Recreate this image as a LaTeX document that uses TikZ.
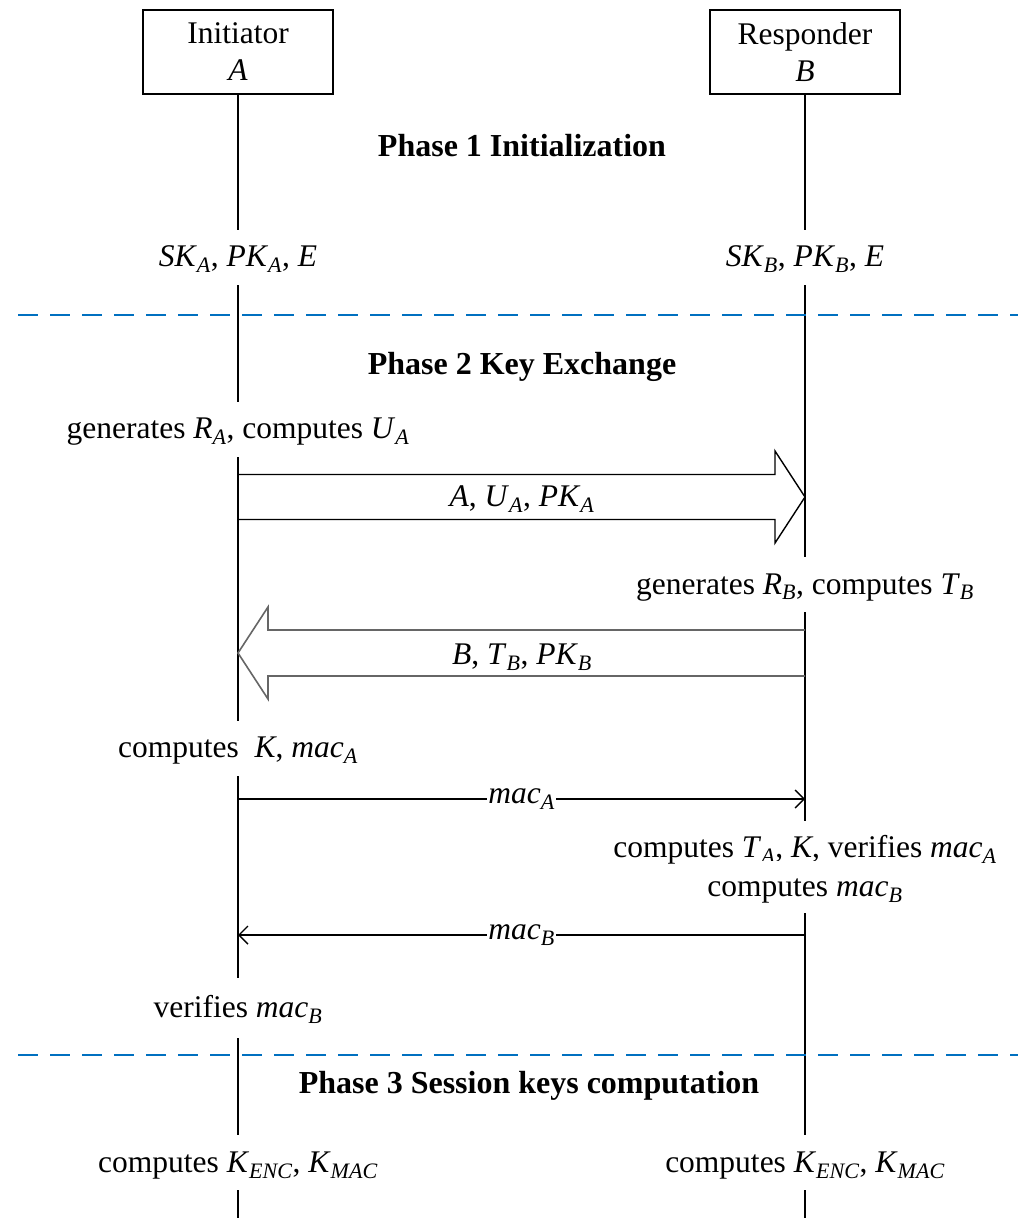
\documentclass[tikz,border=0pt]{standalone}
\usepackage{fontspec}
\setmainfont{Liberation Serif}
\usetikzlibrary{arrows.meta,backgrounds,calc}
\newcommand{\sbi}[1]{\textsubscript{\itshape #1}}
\definecolor{phaseblue}{RGB}{0,112,192}
\begin{document}
\begin{tikzpicture}[x=1pt,y=-1pt,
  every node/.style={font=\fontsize{31.5}{37}\selectfont},
  party/.style={draw,line width=1.4pt,minimum width=190pt,minimum height=84pt,align=center,inner sep=0pt},
  lbl/.style={fill=white,text height=24pt,text depth=5pt,inner xsep=4pt,inner ysep=13pt},
  phase/.style={font=\fontsize{32}{37}\selectfont\bfseries},
  life/.style={line width=1.6pt},
  sep/.style={draw=phaseblue,line width=2.6pt,dash pattern=on 20pt off 12pt},
  msg/.style={line width=1.4pt,-{Straight Barb[length=9pt,width=18pt,line width=1.4pt]}},
  fat/.style={line width=1.4pt,line join=miter},
  fatgray/.style={draw=black!60,line width=1.6pt,line join=miter},
  mlbl/.style={fill=white,inner xsep=1pt,inner ysep=0pt}
]
\useasboundingbox (0,0) rectangle (1018,1218);
% parties
\node[party] (A) at (238,52) {Initiator\\\textit{A}};
\node[party] (B) at (805,52) {Responder\\\textit{B}};
\coordinate (Aend) at (238,1218);
\coordinate (Bend) at (805,1218);
% phase 1
\node[phase] (p1) at (522,146) {Phase 1 Initialization};
\node[lbl] (skA) at (238,257) {\textit{SK}\sbi{A}, \textit{PK}\sbi{A}, \textit{E}};
\node[lbl] (skB) at (805,257) {\textit{SK}\sbi{B}, \textit{PK}\sbi{B}, \textit{E}};
% separator 1
\coordinate (s1l) at (18,315);
\coordinate (s1r) at (1018,315);
\draw[sep] (s1l) -- (s1r);
% phase 2
\node[phase] (p2) at (522,367) {Phase 2 Key Exchange};
\node[lbl] (genA) at (238,429) {generates \textit{R}\sbi{A}, computes \textit{U}\sbi{A}};
% big arrow A -> B
\coordinate (m1s) at (238,497);
\coordinate (m1t) at (805,497);
\draw[fat] ($(m1s)+(0,-22.5)$) -- ($(m1t)+(-30,-22.5)$) -- ($(m1t)+(-30,-46)$) -- (m1t)
  -- ($(m1t)+(-30,46)$) -- ($(m1t)+(-30,22.5)$) -- ($(m1s)+(0,22.5)$);
\node (m1) at (522,499) {\textit{A}, \textit{U}\sbi{A}, \textit{PK}\sbi{A}};
\node[lbl] (genB) at (805,584.5) {generates \textit{R}\sbi{B}, computes \textit{T}\sbi{B}};
% big arrow B -> A
\coordinate (m2s) at (805,653);
\coordinate (m2t) at (238,653);
\draw[fatgray] ($(m2s)+(0,-23)$) -- ($(m2t)+(30,-23)$) -- ($(m2t)+(30,-46)$) -- (m2t)
  -- ($(m2t)+(30,46)$) -- ($(m2t)+(30,23)$) -- ($(m2s)+(0,23)$);
\node (m2) at (522,657) {\textit{B}, \textit{T}\sbi{B}, \textit{PK}\sbi{B}};
\node[lbl] (cmpA) at (238,748) {computes \ \textit{K}, \textit{mac}\sbi{A}};
% mac_A
\coordinate (m3s) at (238,799);
\coordinate (m3t) at (805,799);
\draw[msg] (m3s) -- node[mlbl] (m3) {\textit{mac}\sbi{A}} (m3t);
\node[fill=white,text height=24pt,text depth=5pt,inner xsep=4pt,inner ysep=13pt] (vB1) at (805,848) {computes \textit{T}\sbi{A}, \textit{K}, verifies \textit{mac}\sbi{A}};
\node[fill=white,text height=24pt,text depth=5pt,inner xsep=4pt,inner ysep=11.5pt] (vB2) at (805,887) {computes \textit{mac}\sbi{B}};
% mac_B
\coordinate (m4s) at (805,935);
\coordinate (m4t) at (238,935);
\draw[msg] (m4s) -- node[mlbl] (m4) {\textit{mac}\sbi{B}} (m4t);
\node[lbl,inner ysep=15.5pt] (vA) at (238,1008) {verifies \textit{mac}\sbi{B}};
% separator 2
\coordinate (s2l) at (18,1055);
\coordinate (s2r) at (1018,1055);
\draw[sep] (s2l) -- (s2r);
% phase 3
\node[phase] (p3) at (529,1086) {Phase 3 Session keys computation};
\node[lbl] (kA) at (238,1162.5) {computes \textit{K}\sbi{ENC}, \textit{K}\sbi{MAC}};
\node[lbl] (kB) at (805,1162.5) {computes \textit{K}\sbi{ENC}, \textit{K}\sbi{MAC}};
% lifelines
\begin{pgfonlayer}{background}
\draw[life] (A.south) -- (Aend);
\draw[life] (B.south) -- (Bend);
\end{pgfonlayer}
\end{tikzpicture}
\end{document}
